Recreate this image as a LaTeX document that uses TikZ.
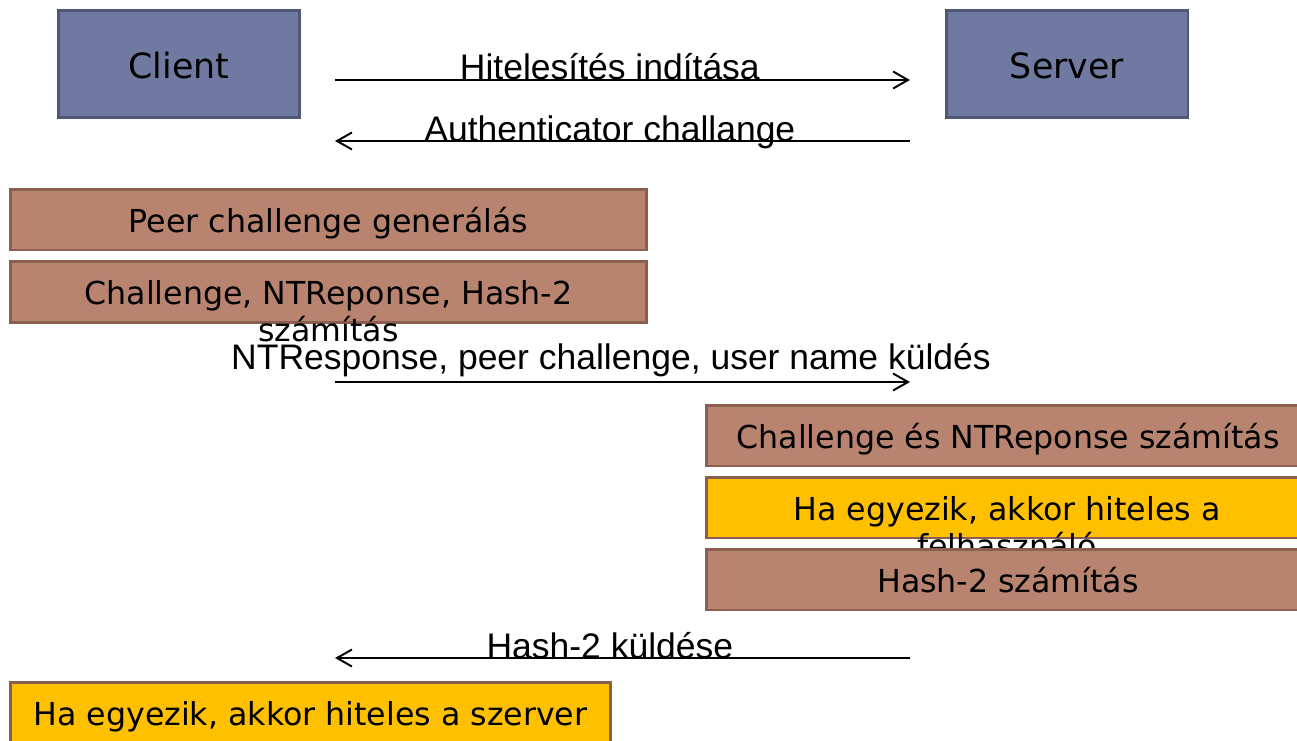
\documentclass[tikz,border=0pt]{standalone}
\usepackage{fontspec}
\setmainfont{DejaVu Sans}
\newfontfamily\msgfont{Liberation Sans}
\usetikzlibrary{arrows.meta}

\definecolor{hostfill}{RGB}{112,121,160}
\definecolor{hostline}{RGB}{80,88,122}
\definecolor{procfill}{RGB}{184,132,112}
\definecolor{procline}{RGB}{139,94,80}
\definecolor{okfill}{RGB}{255,192,0}

\begin{document}
\begin{tikzpicture}[x=0.02cm, y=-0.02cm,
    host/.style={draw=hostline, fill=hostfill, line width=1.7pt, minimum width=4.84cm, minimum height=2.16cm, text height=21.4pt, text depth=4.75pt, font=\fontsize{19.8}{24}\selectfont},
    proc/.style={draw=procline, fill=procfill, line width=1.7pt, minimum height=1.22cm, text height=19.4pt, text depth=4.3pt, font=\fontsize{18}{21}\selectfont},
    check/.style={proc, fill=okfill},
    twoline/.style={align=center, inner sep=0pt, anchor=north, font=\fontsize{18}{21}\selectfont},
    msg/.style={line width=1.1pt, -{Straight Barb[length=0.3cm, width=0.34cm, line width=1.1pt]}},
    lbl/.style={font=\msgfont\fontsize{20.2}{24}\selectfont, inner sep=0pt, anchor=base}]

    \useasboundingbox (0,0) rectangle (1297,740);
    \clip (0,0) rectangle (1297,740);

    \node [host] (client) at (179 , 64) {Client};
    \node [host] (server) at (1067 , 64) {Server};

    \coordinate (m1s) at (335 , 80);   \coordinate (m1e) at (910 , 80);
    \coordinate (m2s) at (910 , 141);  \coordinate (m2e) at (335 , 141);
    \coordinate (m3s) at (335 , 382);  \coordinate (m3e) at (910 , 382);
    \coordinate (m4s) at (910 , 658);  \coordinate (m4e) at (335 , 658);

    % client side
    \node [proc, minimum width=12.74cm] (peer) at (328.5 , 219.5) {Peer challenge generálás};
    \node [proc, minimum width=12.74cm] (calc) at (328.5 , 292) {};
    \node [twoline] (calctext) at (328.5 , 280.5) {Challenge, NTReponse, Hash-2\\számítás};

    % server side
    \node [proc, minimum width=12.08cm] (ntcalc) at (1008 , 435.5) {Challenge és NTReponse számítás};
    \node [check, minimum width=12.08cm] (usercheck) at (1008 , 507.5) {};
    \node [twoline] (userchecktext) at (1007 , 496.5) {Ha egyezik, akkor hiteles a\\felhasználó};
    \node [proc, minimum width=12.08cm] (hashcalc) at (1008 , 579.5) {Hash-2 számítás};

    \node [check, minimum width=12.02cm] (servercheck) at (310.5 , 712.5) {Ha egyezik, akkor hiteles a szerver};

 \path[msg]
      (m1s) edge node [lbl, pos=0.478] {Hitelesítés indítása} (m1e)
      (m2s) edge node [lbl, pos=0.522] {Authenticator challange} (m2e)
      (m3s) edge node [lbl, pos=0.480, yshift=0.26cm] {NTResponse, peer challenge, user name küldés} (m3e)
      (m4s) edge node [lbl, pos=0.522] {Hash-2 küldése} (m4e);
\end{tikzpicture}
\end{document}
